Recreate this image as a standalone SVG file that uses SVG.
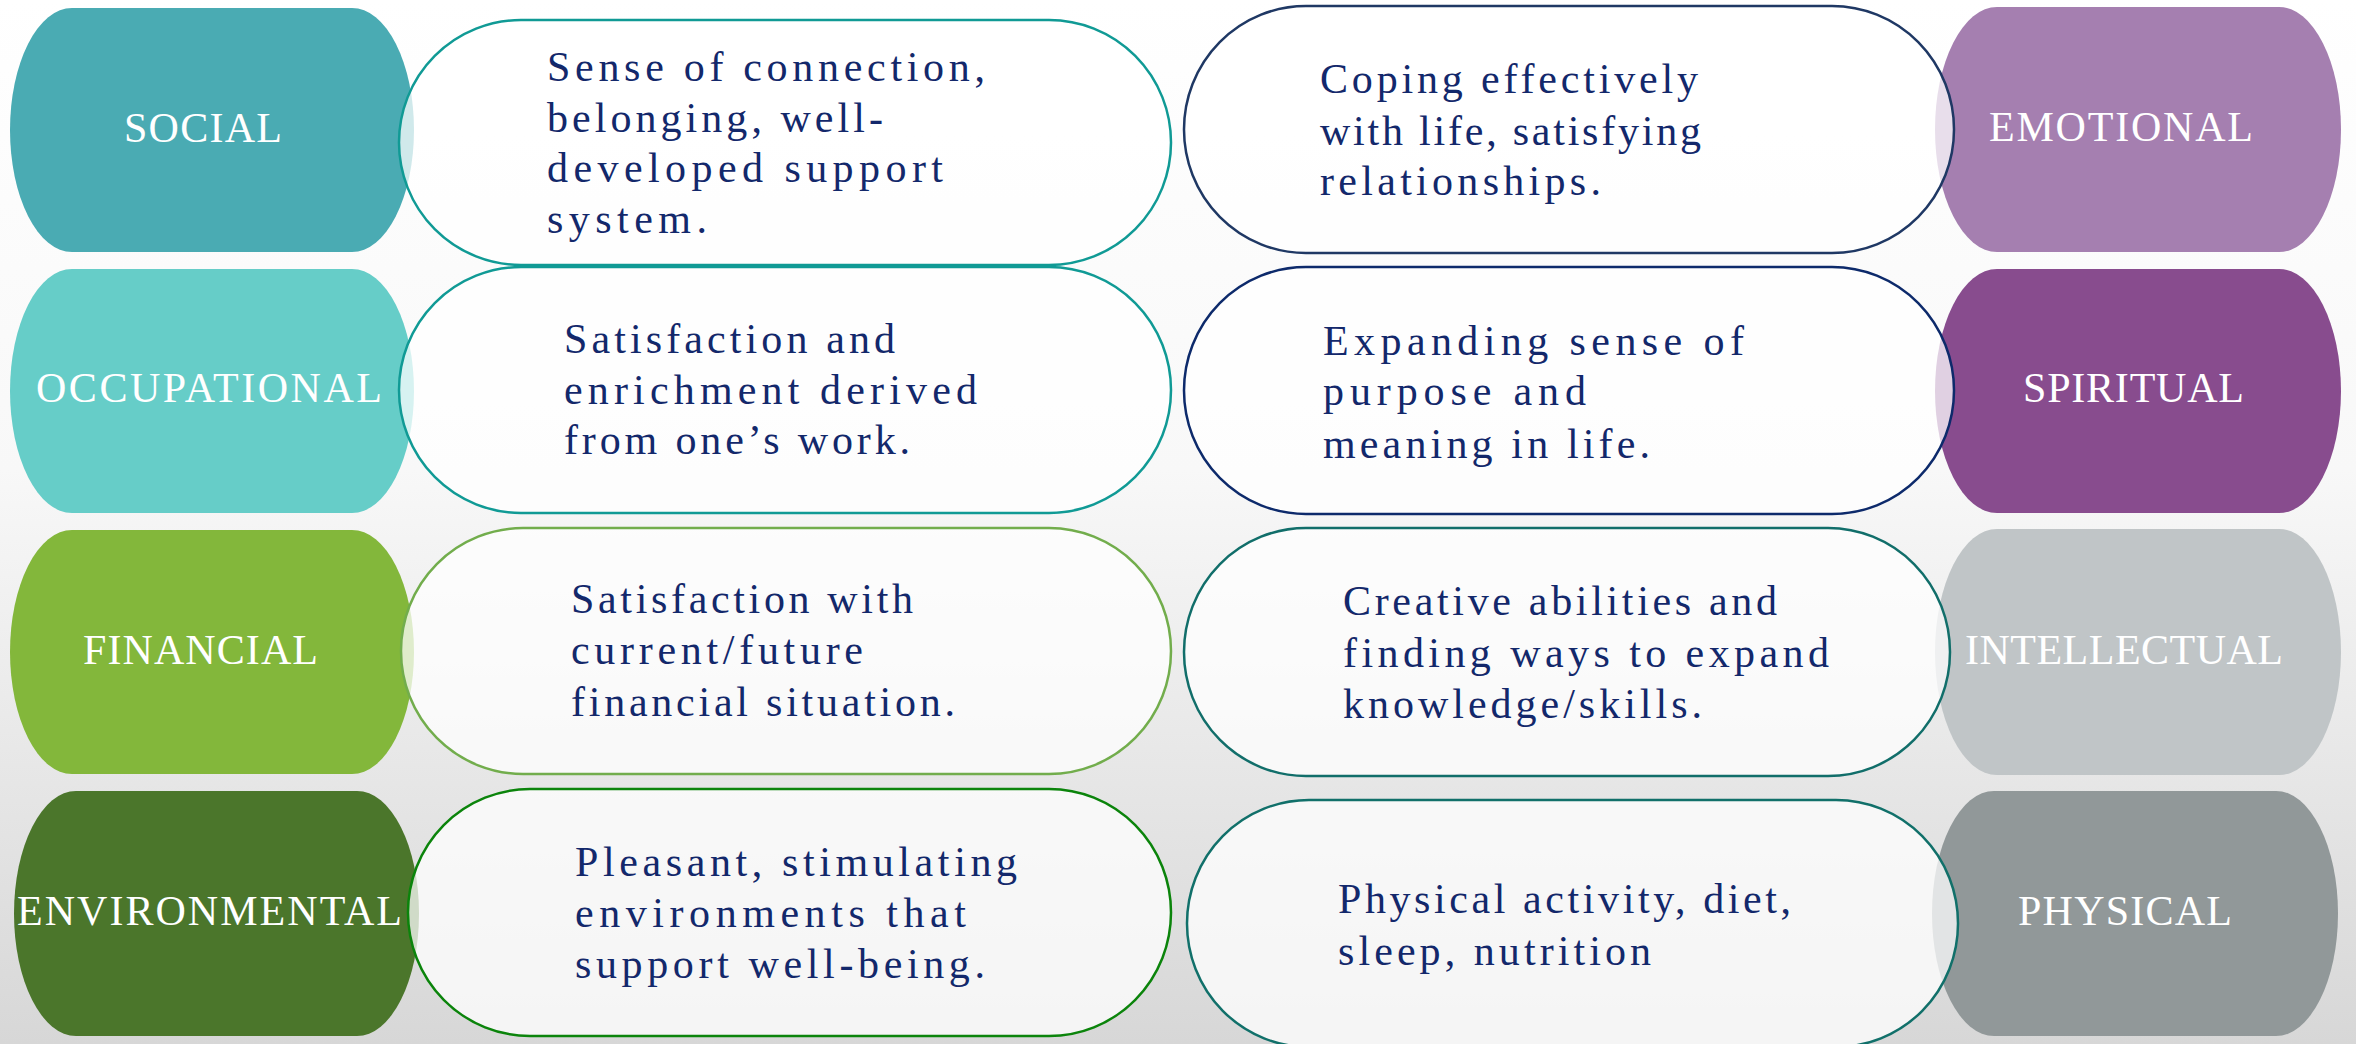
<svg xmlns="http://www.w3.org/2000/svg" width="2356" height="1044" viewBox="0 0 2356 1044">
  <defs>
    <linearGradient id="bg" x1="0" y1="0" x2="0" y2="1">
      <stop offset="0" stop-color="#ffffff"/>
      <stop offset="0.45" stop-color="#f8f8f8"/>
      <stop offset="1" stop-color="#d7d7d7"/>
    </linearGradient>
  </defs>
  <style>
    .tab { stroke: none; }
    .card { fill: #ffffff; fill-opacity: 0.74; stroke-width: 2.5; }
    .label { font-family: "Liberation Serif", "Times New Roman", serif; font-size: 42px; fill: #ffffff; }
    .desc { font-family: "Liberation Serif", "Times New Roman", serif; font-size: 42px; fill: #13286b; }
  </style>

  <rect x="0" y="0" width="2356" height="1044" fill="url(#bg)"/>

  <!-- left column: coloured tab, then description card laid over it -->
  <g id="social">
    <rect class="tab" x="10" y="8" width="404" height="244" rx="62" ry="122" fill="#4aabb3"/>
    <text class="label" x="124" y="142" textLength="158" lengthAdjust="spacing">SOCIAL</text>
    <rect class="card" x="399" y="20" width="772" height="245" rx="122" ry="122.5" stroke="#109a95"/>
    <text class="desc" x="547" y="81" textLength="438" lengthAdjust="spacing">Sense of connection,</text>
    <text class="desc" x="547" y="132" textLength="336" lengthAdjust="spacing">belonging, well-</text>
    <text class="desc" x="547" y="182" textLength="396" lengthAdjust="spacing">developed support</text>
    <text class="desc" x="547" y="233" textLength="160" lengthAdjust="spacing">system.</text>
  </g>

  <g id="occupational">
    <rect class="tab" x="10" y="269" width="404" height="244" rx="62" ry="122" fill="#66cdc8"/>
    <text class="label" x="36" y="402" textLength="346" lengthAdjust="spacing">OCCUPATIONAL</text>
    <rect class="card" x="399" y="267" width="772" height="246" rx="122" ry="123" stroke="#109a95"/>
    <text class="desc" x="564" y="353" textLength="331" lengthAdjust="spacing">Satisfaction and</text>
    <text class="desc" x="564" y="404" textLength="413" lengthAdjust="spacing">enrichment derived</text>
    <text class="desc" x="564" y="454" textLength="346" lengthAdjust="spacing">from one’s work.</text>
  </g>

  <g id="financial">
    <rect class="tab" x="10" y="530" width="404" height="244" rx="62" ry="122" fill="#83b73b"/>
    <text class="label" x="83" y="664" textLength="235" lengthAdjust="spacing">FINANCIAL</text>
    <rect class="card" x="401" y="528" width="770" height="246" rx="122" ry="123" stroke="#72ad4c"/>
    <text class="desc" x="571" y="613" textLength="342" lengthAdjust="spacing">Satisfaction with</text>
    <text class="desc" x="571" y="664" textLength="292" lengthAdjust="spacing">current/future</text>
    <text class="desc" x="571" y="716" textLength="384" lengthAdjust="spacing">financial situation.</text>
  </g>

  <g id="environmental">
    <rect class="tab" x="14" y="791" width="405" height="245" rx="62" ry="122.5" fill="#4b762b"/>
    <text class="label" x="17" y="925" textLength="385" lengthAdjust="spacing">ENVIRONMENTAL</text>
    <rect class="card" x="408" y="789" width="763" height="247" rx="122" ry="123.5" stroke="#0b840b"/>
    <text class="desc" x="575" y="876" textLength="442" lengthAdjust="spacing">Pleasant, stimulating</text>
    <text class="desc" x="575" y="927" textLength="391" lengthAdjust="spacing">environments that</text>
    <text class="desc" x="575" y="978" textLength="410" lengthAdjust="spacing">support well-being.</text>
  </g>

  <!-- right column: coloured tab on the right, card laid over its left edge -->
  <g id="emotional">
    <rect class="tab" x="1935" y="7" width="406" height="245" rx="62" ry="122.5" fill="#a57fb0"/>
    <text class="label" x="1989" y="141" textLength="264" lengthAdjust="spacing">EMOTIONAL</text>
    <rect class="card" x="1184" y="6" width="770" height="247" rx="122" ry="123.5" stroke="#1f3864"/>
    <text class="desc" x="1320" y="93" textLength="378" lengthAdjust="spacing">Coping effectively</text>
    <text class="desc" x="1320" y="145" textLength="381" lengthAdjust="spacing">with life, satisfying</text>
    <text class="desc" x="1320" y="195" textLength="281" lengthAdjust="spacing">relationships.</text>
  </g>

  <g id="spiritual">
    <rect class="tab" x="1935" y="269" width="406" height="244" rx="62" ry="122" fill="#884c8e"/>
    <text class="label" x="2023" y="402" textLength="221" lengthAdjust="spacing">SPIRITUAL</text>
    <rect class="card" x="1184" y="267" width="770" height="247" rx="122" ry="123.5" stroke="#0d2a6b"/>
    <text class="desc" x="1323" y="355" textLength="421" lengthAdjust="spacing">Expanding sense of</text>
    <text class="desc" x="1323" y="405" textLength="263" lengthAdjust="spacing">purpose and</text>
    <text class="desc" x="1323" y="458" textLength="327" lengthAdjust="spacing">meaning in life.</text>
  </g>

  <g id="intellectual">
    <rect class="tab" x="1935" y="529" width="406" height="246" rx="62" ry="123" fill="#c0c5c7"/>
    <text class="label" x="1965" y="664" textLength="318" lengthAdjust="spacing">INTELLECTUAL</text>
    <rect class="card" x="1184" y="528" width="766" height="248" rx="122" ry="124" stroke="#116e6a"/>
    <text class="desc" x="1343" y="615" textLength="434" lengthAdjust="spacing">Creative abilities and</text>
    <text class="desc" x="1343" y="667" textLength="486" lengthAdjust="spacing">finding ways to expand</text>
    <text class="desc" x="1343" y="718" textLength="359" lengthAdjust="spacing">knowledge/skills.</text>
  </g>

  <g id="physical">
    <rect class="tab" x="1932" y="791" width="406" height="245" rx="62" ry="122.5" fill="#919899"/>
    <text class="label" x="2018" y="925" textLength="214" lengthAdjust="spacing">PHYSICAL</text>
    <rect class="card" x="1187" y="800" width="771" height="247" rx="122" ry="123.5" stroke="#11706a"/>
    <text class="desc" x="1338" y="913" textLength="453" lengthAdjust="spacing">Physical activity, diet,</text>
    <text class="desc" x="1338" y="965" textLength="313" lengthAdjust="spacing">sleep, nutrition</text>
  </g>
</svg>
